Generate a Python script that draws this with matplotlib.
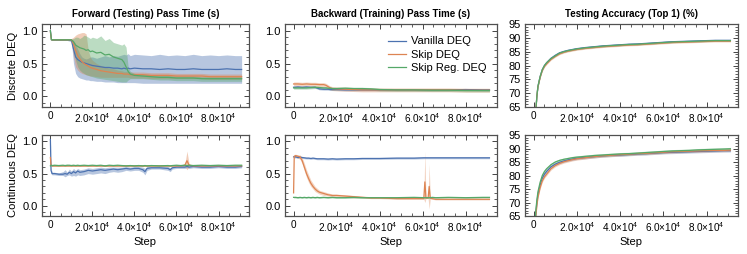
import matplotlib
matplotlib.use("Agg")
import matplotlib.pyplot as plt
from matplotlib.ticker import MultipleLocator, FuncFormatter
import numpy as np

plt.rcParams['font.family'] = ['Liberation Sans', 'DejaVu Sans']
plt.rcParams['mathtext.fontset'] = 'custom'
plt.rcParams['mathtext.rm'] = 'Liberation Sans'
plt.rcParams['mathtext.it'] = 'Liberation Sans:italic'
plt.rcParams['mathtext.bf'] = 'Liberation Sans:bold'

# ---------------- data ----------------
series_names = ["Vanilla DEQ", "Skip DEQ", "Skip Reg. DEQ"]
col_titles = ["Forward (Testing) Pass Time (s)", "Backward (Training) Pass Time (s)",
              "Testing Accuracy (Top 1) (%)"]
row_labels = ["Discrete DEQ", "Continuous DEQ"]

# Forward pass time, discrete DEQ
steps_fd = [0, 500, 2000, 4000, 6000, 8000, 10000, 11000, 12000, 13000, 14000, 15000, 16000,
            17000, 18000, 19000, 20000, 22000, 24000, 26000, 28000, 30000, 32000, 34000, 35000,
            36000, 37000, 38000, 40000, 44000, 48000, 52000, 56000, 60000, 64000, 68000, 72000,
            76000, 80000, 84000, 88000, 91000]
fd_van = [1.0, 0.86, 0.86, 0.86, 0.86, 0.86, 0.85, 0.72, 0.60, 0.56, 0.54, 0.52, 0.51,
          0.50, 0.49, 0.48, 0.47, 0.46, 0.45, 0.44, 0.44, 0.43, 0.43, 0.42, 0.43,
          0.42, 0.43, 0.42, 0.43, 0.42, 0.42, 0.41, 0.42, 0.41, 0.41, 0.42, 0.41,
          0.41, 0.41, 0.42, 0.41, 0.41]
fd_van_lo = [1.0, 0.85, 0.85, 0.85, 0.85, 0.85, 0.83, 0.50, 0.35, 0.30, 0.28, 0.27, 0.26,
             0.25, 0.25, 0.24, 0.24, 0.23, 0.23, 0.22, 0.22, 0.22, 0.21, 0.21, 0.21,
             0.21, 0.21, 0.21, 0.21, 0.20, 0.20, 0.20, 0.20, 0.20, 0.20, 0.20, 0.20,
             0.20, 0.20, 0.20, 0.20, 0.20]
fd_van_hi = [1.0, 0.87, 0.87, 0.87, 0.87, 0.87, 0.87, 0.85, 0.80, 0.72, 0.65, 0.60, 0.58,
             0.57, 0.58, 0.60, 0.60, 0.58, 0.60, 0.62, 0.60, 0.62, 0.61, 0.63, 0.64,
             0.63, 0.65, 0.62, 0.64, 0.63, 0.62, 0.64, 0.62, 0.63, 0.62, 0.64, 0.62,
             0.63, 0.62, 0.63, 0.62, 0.62]
fd_skip = [0.98, 0.86, 0.86, 0.86, 0.86, 0.86, 0.86, 0.80, 0.70, 0.62, 0.57, 0.53, 0.50,
           0.48, 0.46, 0.44, 0.43, 0.41, 0.39, 0.38, 0.37, 0.36, 0.35, 0.35, 0.34,
           0.34, 0.34, 0.33, 0.33, 0.33, 0.32, 0.32, 0.32, 0.31, 0.31, 0.31, 0.31,
           0.30, 0.30, 0.30, 0.30, 0.30]
fd_skip_lo = [0.98, 0.85, 0.85, 0.85, 0.85, 0.85, 0.85, 0.60, 0.45, 0.40, 0.37, 0.35, 0.34,
              0.33, 0.32, 0.31, 0.31, 0.30, 0.29, 0.29, 0.29, 0.29, 0.29, 0.29, 0.29,
              0.29, 0.29, 0.28, 0.28, 0.28, 0.27, 0.27, 0.27, 0.27, 0.27, 0.27, 0.27,
              0.26, 0.26, 0.26, 0.26, 0.26]
fd_skip_hi = [0.98, 0.87, 0.87, 0.87, 0.87, 0.87, 0.88, 0.90, 0.93, 0.95, 0.96, 0.97, 0.97,
              0.95, 0.70, 0.60, 0.55, 0.50, 0.47, 0.45, 0.43, 0.42, 0.40, 0.39, 0.38,
              0.38, 0.38, 0.37, 0.37, 0.37, 0.36, 0.36, 0.36, 0.35, 0.35, 0.35, 0.35,
              0.34, 0.34, 0.34, 0.34, 0.34]
fd_reg = [1.0, 0.86, 0.86, 0.86, 0.86, 0.86, 0.86, 0.83, 0.78, 0.76, 0.74, 0.73, 0.72,
          0.70, 0.71, 0.68, 0.69, 0.66, 0.67, 0.63, 0.64, 0.60, 0.58, 0.56, 0.52,
          0.45, 0.38, 0.34, 0.32, 0.31, 0.30, 0.29, 0.29, 0.28, 0.28, 0.28, 0.27,
          0.27, 0.27, 0.27, 0.27, 0.27]
fd_reg_lo = [1.0, 0.85, 0.85, 0.85, 0.85, 0.85, 0.85, 0.75, 0.55, 0.45, 0.40, 0.37, 0.35,
             0.33, 0.32, 0.31, 0.30, 0.28, 0.27, 0.26, 0.25, 0.24, 0.23, 0.22, 0.22,
             0.22, 0.25, 0.27, 0.27, 0.27, 0.26, 0.25, 0.25, 0.24, 0.24, 0.24, 0.23,
             0.23, 0.23, 0.23, 0.23, 0.23]
fd_reg_hi = [1.0, 0.87, 0.87, 0.87, 0.87, 0.87, 0.87, 0.88, 0.90, 0.90, 0.88, 0.90, 0.93,
             0.92, 0.90, 0.88, 0.90, 0.88, 0.92, 0.85, 0.88, 0.82, 0.80, 0.78, 0.80,
             0.75, 0.45, 0.38, 0.35, 0.34, 0.33, 0.32, 0.32, 0.31, 0.31, 0.31, 0.30,
             0.30, 0.30, 0.30, 0.30, 0.30]

# Backward pass time, discrete DEQ
steps_bd = [0, 2000, 4000, 6000, 8000, 10000, 12000, 14000, 15000, 16000, 17000, 18000, 20000,
            24000, 28000, 32000, 36000, 40000, 48000, 56000, 64000, 72000, 80000, 88000, 91000]
bd_van = [0.14, 0.145, 0.14, 0.145, 0.14, 0.14, 0.115, 0.11, 0.11, 0.11, 0.105, 0.105, 0.105,
          0.10, 0.10, 0.10, 0.10, 0.10, 0.10, 0.10, 0.10, 0.10, 0.105, 0.10, 0.10]
bd_skip = [0.19, 0.19, 0.185, 0.19, 0.185, 0.185, 0.18, 0.18, 0.17, 0.15, 0.13, 0.12, 0.115,
           0.11, 0.105, 0.10, 0.10, 0.10, 0.10, 0.10, 0.10, 0.10, 0.095, 0.095, 0.095]
bd_reg = [0.13, 0.13, 0.13, 0.13, 0.135, 0.14, 0.135, 0.13, 0.13, 0.125, 0.125, 0.12, 0.12,
          0.125, 0.12, 0.12, 0.115, 0.105, 0.10, 0.10, 0.095, 0.095, 0.09, 0.09, 0.09]
bd_spread = [0.015, 0.03, 0.02]

# Forward pass time, continuous DEQ
steps_fc = [0, 300, 800, 2000, 4000, 6000, 7000, 8000, 9000, 10000, 11000, 12000, 13000,
            14000, 16000, 18000, 20000, 22000, 24000, 26000, 28000, 30000, 32000, 34000,
            36000, 38000, 40000, 42000, 44000, 45000, 46000, 48000, 52000, 56000, 57000,
            58000, 60000, 62000, 64000, 65000, 66000, 68000, 72000, 76000, 80000, 84000,
            88000, 91000]
fc_van = [1.03, 0.55, 0.50, 0.50, 0.49, 0.49, 0.50, 0.49, 0.52, 0.50, 0.53, 0.51, 0.54,
          0.52, 0.53, 0.55, 0.54, 0.55, 0.56, 0.55, 0.56, 0.57, 0.56, 0.57,
          0.58, 0.57, 0.58, 0.58, 0.56, 0.53, 0.58, 0.59, 0.59, 0.58, 0.56,
          0.59, 0.60, 0.60, 0.60, 0.61, 0.60, 0.61, 0.60, 0.60, 0.61, 0.60,
          0.60, 0.61]
fc_van_lo = [1.0, 0.50, 0.48, 0.48, 0.47, 0.47, 0.45, 0.47, 0.48, 0.46, 0.47, 0.46, 0.48,
             0.47, 0.48, 0.50, 0.49, 0.50, 0.51, 0.50, 0.52, 0.53, 0.52, 0.53,
             0.55, 0.54, 0.55, 0.55, 0.52, 0.48, 0.55, 0.57, 0.57, 0.55, 0.53,
             0.57, 0.58, 0.58, 0.58, 0.59, 0.58, 0.59, 0.58, 0.58, 0.59, 0.58,
             0.58, 0.59]
fc_van_hi = [1.05, 0.60, 0.52, 0.52, 0.51, 0.53, 0.56, 0.52, 0.57, 0.54, 0.58, 0.55, 0.58,
             0.56, 0.57, 0.59, 0.58, 0.59, 0.60, 0.59, 0.60, 0.60, 0.60, 0.60,
             0.61, 0.60, 0.61, 0.61, 0.60, 0.58, 0.61, 0.61, 0.61, 0.61, 0.59,
             0.61, 0.62, 0.62, 0.62, 0.63, 0.62, 0.63, 0.62, 0.62, 0.63, 0.62,
             0.62, 0.63]
fc_skip = [0.75, 0.63, 0.62, 0.62, 0.62, 0.62, 0.62, 0.62, 0.62, 0.62, 0.62, 0.62, 0.62,
           0.62, 0.62, 0.62, 0.62, 0.62, 0.62, 0.62, 0.62, 0.62, 0.62, 0.62,
           0.62, 0.62, 0.62, 0.62, 0.62, 0.62, 0.62, 0.62, 0.62, 0.62, 0.62,
           0.62, 0.62, 0.62, 0.63, 0.70, 0.63, 0.62, 0.62, 0.62, 0.62, 0.62,
           0.62, 0.62]
fc_skip_lo = [0.72, 0.61, 0.61, 0.61, 0.61, 0.61, 0.61, 0.61, 0.61, 0.61, 0.61, 0.61, 0.61,
              0.61, 0.61, 0.61, 0.61, 0.61, 0.61, 0.61, 0.61, 0.61, 0.61, 0.61,
              0.61, 0.61, 0.61, 0.61, 0.61, 0.61, 0.61, 0.61, 0.61, 0.61, 0.61,
              0.61, 0.61, 0.61, 0.61, 0.56, 0.61, 0.61, 0.61, 0.61, 0.61, 0.61,
              0.61, 0.61]
fc_skip_hi = [0.78, 0.65, 0.63, 0.63, 0.63, 0.63, 0.63, 0.63, 0.63, 0.63, 0.63, 0.63, 0.63,
              0.63, 0.63, 0.63, 0.63, 0.63, 0.63, 0.63, 0.63, 0.63, 0.63, 0.63,
              0.63, 0.63, 0.63, 0.63, 0.63, 0.63, 0.63, 0.63, 0.63, 0.63, 0.63,
              0.63, 0.63, 0.63, 0.65, 0.85, 0.65, 0.63, 0.63, 0.63, 0.63, 0.63,
              0.63, 0.63]
fc_reg = [0.62, 0.63, 0.625, 0.63, 0.625, 0.63, 0.625, 0.63, 0.63, 0.625, 0.63, 0.625, 0.63,
          0.625, 0.63, 0.625, 0.63, 0.625, 0.63, 0.62, 0.63, 0.625, 0.63, 0.625,
          0.62, 0.625, 0.62, 0.625, 0.62, 0.625, 0.62, 0.625, 0.62, 0.625, 0.62,
          0.625, 0.63, 0.625, 0.63, 0.625, 0.63, 0.625, 0.63, 0.625, 0.63, 0.625,
          0.63, 0.63]
fc_reg_spread = 0.01

# Backward pass time, continuous DEQ
steps_bc = [0, 300, 1000, 2000, 3000, 4000, 5000, 6000, 7000, 8000, 9000, 10000, 11000, 12000,
            14000, 16000, 18000, 20000, 24000, 28000, 32000, 36000, 40000, 48000, 56000,
            60500, 61000, 61500, 62500, 63000, 63500, 64500, 66000, 72000, 80000, 88000, 91000]
bc_van = [0.76, 0.76, 0.76, 0.75, 0.755, 0.75, 0.745, 0.74, 0.74, 0.735, 0.74, 0.735, 0.73, 0.73,
          0.73, 0.725, 0.73, 0.725, 0.73, 0.73, 0.735, 0.735, 0.735, 0.74, 0.74,
          0.745, 0.745, 0.745, 0.745, 0.745, 0.745, 0.745, 0.745, 0.745, 0.745, 0.745, 0.745]
bc_skip = [0.20, 0.77, 0.78, 0.77, 0.76, 0.70, 0.60, 0.50, 0.42, 0.35, 0.30, 0.26, 0.23, 0.21,
           0.19, 0.17, 0.16, 0.16, 0.15, 0.14, 0.13, 0.12, 0.12, 0.11, 0.11,
           0.11, 0.37, 0.12, 0.12, 0.30, 0.12, 0.11, 0.10, 0.10, 0.10, 0.10, 0.10]
bc_skip_lo = [0.20, 0.74, 0.75, 0.74, 0.72, 0.65, 0.54, 0.44, 0.36, 0.30, 0.26, 0.22, 0.20, 0.18,
              0.16, 0.15, 0.14, 0.14, 0.13, 0.12, 0.12, 0.11, 0.11, 0.10, 0.10,
              0.10, 0.05, 0.11, 0.11, -0.05, 0.10, 0.10, 0.09, 0.09, 0.09, 0.09, 0.09]
bc_skip_hi = [0.20, 0.80, 0.80, 0.79, 0.79, 0.75, 0.66, 0.56, 0.48, 0.40, 0.35, 0.30, 0.27, 0.24,
              0.22, 0.20, 0.18, 0.18, 0.17, 0.16, 0.15, 0.14, 0.13, 0.12, 0.12,
              0.12, 0.85, 0.13, 0.13, 0.65, 0.13, 0.12, 0.11, 0.11, 0.11, 0.11, 0.11]
bc_reg = [0.13, 0.13, 0.13, 0.125, 0.13, 0.125, 0.13, 0.125, 0.13, 0.125, 0.13, 0.125, 0.13, 0.125,
          0.13, 0.125, 0.13, 0.125, 0.125, 0.13, 0.125, 0.125, 0.125, 0.125, 0.13,
          0.125, 0.125, 0.125, 0.125, 0.125, 0.125, 0.13, 0.125, 0.13, 0.125, 0.13, 0.13]
bc_spread = [0.015, 0.0, 0.012]

# Testing accuracy
steps_acc = [0, 500, 1000, 1500, 2000, 3000, 4000, 5000, 6000, 8000, 10000, 12000, 14000, 16000,
             18000, 20000, 24000, 28000, 32000, 36000, 40000, 44000, 48000, 52000, 56000,
             60000, 64000, 68000, 72000, 76000, 80000, 84000, 88000, 91000]
ad_van = [50, 58, 63.5, 69, 72.5, 76, 78.5, 80, 81, 82.6, 83.7, 84.6, 85.1, 85.5,
          85.8, 86.1, 86.5, 86.8, 87.1, 87.3, 87.5, 87.7, 87.8, 88.0, 88.2,
          88.4, 88.6, 88.7, 88.8, 88.9, 89.0, 89.1, 89.1, 89.1]
ad_skip = [50, 58, 63.5, 69, 72.3, 75.7, 78.2, 79.7, 80.6, 82.2, 83.3, 84.2, 84.8, 85.2,
           85.5, 85.8, 86.2, 86.5, 86.8, 87.0, 87.2, 87.4, 87.5, 87.7, 87.9,
           88.1, 88.3, 88.4, 88.5, 88.6, 88.7, 88.8, 88.8, 88.8]
ad_reg = [50, 58, 63.5, 69, 72.5, 76, 78.5, 80, 81, 82.5, 83.5, 84.5, 85.0, 85.4,
          85.7, 86.0, 86.4, 86.7, 87.0, 87.2, 87.4, 87.6, 87.7, 87.9, 88.1,
          88.3, 88.5, 88.6, 88.7, 88.8, 88.9, 89.0, 89.0, 89.0]
ac_van = [50, 59, 66, 70, 73, 76.5, 79, 80.5, 81.5, 83.2, 84.2, 84.9, 85.4, 85.8,
          86.1, 86.4, 86.7, 87.0, 87.3, 87.5, 87.6, 87.8, 88.0, 88.1, 88.3,
          88.5, 88.6, 88.7, 88.8, 88.9, 89.0, 89.1, 89.2, 89.2]
ac_skip = [50, 58, 65, 69, 72, 75.5, 78, 79.5, 80.5, 82.5, 83.7, 84.5, 85.1, 85.5,
           85.9, 86.2, 86.6, 87.0, 87.3, 87.5, 87.7, 87.9, 88.1, 88.2, 88.4,
           88.6, 88.8, 88.9, 89.0, 89.1, 89.2, 89.3, 89.3, 89.4]
ac_reg = [50, 60, 67, 71, 74, 77.5, 80, 81.5, 82.5, 84, 85, 85.6, 86.0, 86.3,
          86.6, 86.8, 87.1, 87.4, 87.6, 87.8, 88.0, 88.1, 88.3, 88.5, 88.7,
          88.9, 89.1, 89.2, 89.3, 89.5, 89.6, 89.7, 89.8, 89.9]
ad_spread = 0.3
ac_spread = 0.5

# ---------------- plotting ----------------
colors = ["#4c72b0", "#dd8452", "#55a868"]
fig = plt.figure(figsize=(7.47, 2.54), dpi=100)

col_left = [0.0562, 0.3815, 0.7028]
col_width = [0.2771, 0.2838, 0.2851]
row_bottom = [0.5787, 0.1496]
row_height = [0.3268, 0.3189]

axes = [[fig.add_axes([col_left[c], row_bottom[r], col_width[c], row_height[r]])
         for c in range(3)] for r in range(2)]

def sci_fmt(v, pos):
    if abs(v) < 1e-9:
        return "0"
    e = int(np.floor(np.log10(abs(v))))
    m = v / 10 ** e
    return r"%.1f$\times$10$^{%d}$" % (m, e)

def band(ax, x, lo, hi, c, a=0.4):
    ax.fill_between(x, lo, hi, color=c, alpha=a, linewidth=0)

def line(ax, x, y, c, label=None):
    ax.plot(x, y, color=c, linewidth=0.9, label=label)

# top-left
ax = axes[0][0]
band(ax, steps_fd, fd_van_lo, fd_van_hi, colors[0], 0.4)
band(ax, steps_fd, fd_skip_lo, fd_skip_hi, colors[1], 0.4)
band(ax, steps_fd, fd_reg_lo, fd_reg_hi, colors[2], 0.4)
line(ax, steps_fd, fd_van, colors[0])
line(ax, steps_fd, fd_skip, colors[1])
line(ax, steps_fd, fd_reg, colors[2])

# top-middle
ax = axes[0][1]
for y, s, c, n in zip([bd_van, bd_skip, bd_reg], bd_spread, colors, series_names):
    band(ax, steps_bd, np.array(y) - s, np.array(y) + s, c, 0.35)
    line(ax, steps_bd, y, c, n)

# bottom-left
ax = axes[1][0]
band(ax, steps_fc, fc_van_lo, fc_van_hi, colors[0], 0.4)
band(ax, steps_fc, fc_skip_lo, fc_skip_hi, colors[1], 0.4)
band(ax, steps_fc, np.array(fc_reg) - fc_reg_spread, np.array(fc_reg) + fc_reg_spread, colors[2], 0.4)
line(ax, steps_fc, fc_van, colors[0])
line(ax, steps_fc, fc_skip, colors[1])
line(ax, steps_fc, fc_reg, colors[2])

# bottom-middle
ax = axes[1][1]
band(ax, steps_bc, np.array(bc_van) - bc_spread[0], np.array(bc_van) + bc_spread[0], colors[0], 0.35)
band(ax, steps_bc, bc_skip_lo, bc_skip_hi, colors[1], 0.35)
band(ax, steps_bc, np.array(bc_reg) - bc_spread[2], np.array(bc_reg) + bc_spread[2], colors[2], 0.35)
line(ax, steps_bc, bc_van, colors[0])
line(ax, steps_bc, bc_skip, colors[1])
line(ax, steps_bc, bc_reg, colors[2])

# accuracy
for r, (ys, sp) in enumerate([([ad_van, ad_skip, ad_reg], ad_spread),
                              ([ac_van, ac_skip, ac_reg], ac_spread)]):
    ax = axes[r][2]
    for y, c in zip(ys, colors):
        band(ax, steps_acc, np.array(y) - sp, np.array(y) + sp, c, 0.35)
    for y, c in zip(ys, colors):
        line(ax, steps_acc, y, c)

for r in range(2):
    for c in range(3):
        ax = axes[r][c]
        ax.set_xlim(-4000, 94500)
        if c < 2:
            ax.set_ylim(-0.16, 1.1)
            ax.yaxis.set_major_locator(MultipleLocator(0.5))
            ax.yaxis.set_minor_locator(MultipleLocator(0.1))
            ax.yaxis.set_major_formatter(FuncFormatter(lambda v, p: "%.1f" % v))
        else:
            ax.set_ylim(65, 95)
            ax.yaxis.set_major_locator(MultipleLocator(5))
            ax.yaxis.set_minor_locator(MultipleLocator(1))
        ax.xaxis.set_major_locator(MultipleLocator(20000))
        ax.xaxis.set_minor_locator(MultipleLocator(5000))
        ax.xaxis.set_major_formatter(FuncFormatter(sci_fmt))
        ax.tick_params(which='both', direction='in', top=True, right=True,
                       color='#444444', pad=3)
        ax.tick_params(axis='y', labelsize=8)
        ax.tick_params(axis='x', labelsize=7.2)
        ax.tick_params(which='major', length=3.5, width=0.7)
        ax.tick_params(which='minor', length=2, width=0.6)
        for sp in ax.spines.values():
            sp.set_color('#505050')
            sp.set_linewidth(0.9)
        if r == 0:
            ax.set_title(col_titles[c], fontsize=7.0, fontweight='bold', pad=5)
        else:
            ax.set_xlabel("Step", fontsize=8, labelpad=2)
        if c == 0:
            ax.set_ylabel(row_labels[r], fontsize=8, labelpad=3)

leg = axes[0][1].legend(loc='upper right', frameon=False, fontsize=8,
                        handlelength=1.6, handletextpad=0.5, labelspacing=0.3,
                        bbox_to_anchor=(1.0, 0.97))

fig.savefig("out.png", dpi=100)
